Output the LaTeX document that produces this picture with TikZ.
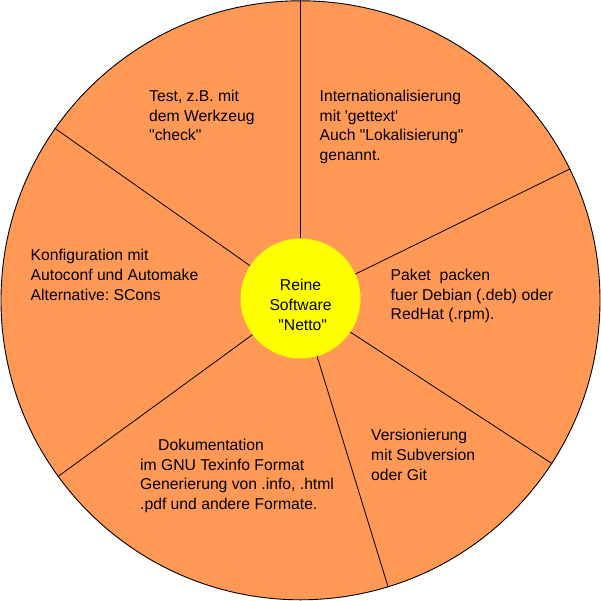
\documentclass[tikz,border=0pt]{standalone}
\usepackage{fontspec}
\newfontfamily\lsans{Liberation Sans}[Ligatures=TeXOff]
\definecolor{wedge}{HTML}{FF9955}
\definecolor{hubc}{HTML}{FFFF00}
\frenchspacing
\begin{document}
\begin{tikzpicture}[x=1pt,y=-1pt,
  lbl/.style={font={\lsans\fontsize{15.7}{19.8}\selectfont\frenchspacing}, align=left, anchor=north west, inner sep=0pt, text=black},
  spoke/.style={draw=black, line width=0.8pt}]
\useasboundingbox (0,0) rectangle (601,601);
\node[circle, draw=black, line width=0.9pt, fill=wedge, minimum size=599pt, inner sep=0pt] (wheel) at (300.5,300.3) {};
\node[circle, fill=hubc, minimum size=120pt, inner sep=0pt] (hub) at (300.5,298.5) {};
\draw[spoke] (hub.90) -- (wheel.90);
\draw[spoke] (hub.147.4) -- (wheel.145.8);
\draw[spoke] (hub.24.2) -- (wheel.26.2);
\draw[spoke] (hub.217.7) -- (wheel.216.8);
\draw[spoke] (hub.326.3) -- (wheel.327.4);
\draw[spoke] (hub.286.4) -- (wheel.287.1);
\node[lbl, align=center, anchor=north] (hubtext) at (300.5,279.4) {Reine\\Software\\\hspace*{0.278em}"Netto"};
\node[lbl] (test) at (149,89.8) {Test, z.B. mit\\dem Werkzeug\\"check"};
\node[lbl] (intl) at (319.5,89.8) {Internationalisierung\\mit 'gettext'\\Auch "Lokalisierung"\\genannt.};
\node[lbl] (konf) at (30.5,249.4) {Konfiguration mit\\Autoconf und Automake\\Alternative: SCons};
\node[lbl] (paket) at (390.5,268.7) {Paket\ \ packen\\fuer Debian (.deb) oder\\RedHat (.rpm).};
\node[lbl] (doku) at (140,438.7) {\hspace*{18pt}Dokumentation\\im GNU Texinfo Format\\Generierung von .info, .html\\.pdf und andere Formate.};
\node[lbl] (vers) at (371,429.4) {Versionierung\\mit Subversion\\oder Git};
\end{tikzpicture}
\end{document}
